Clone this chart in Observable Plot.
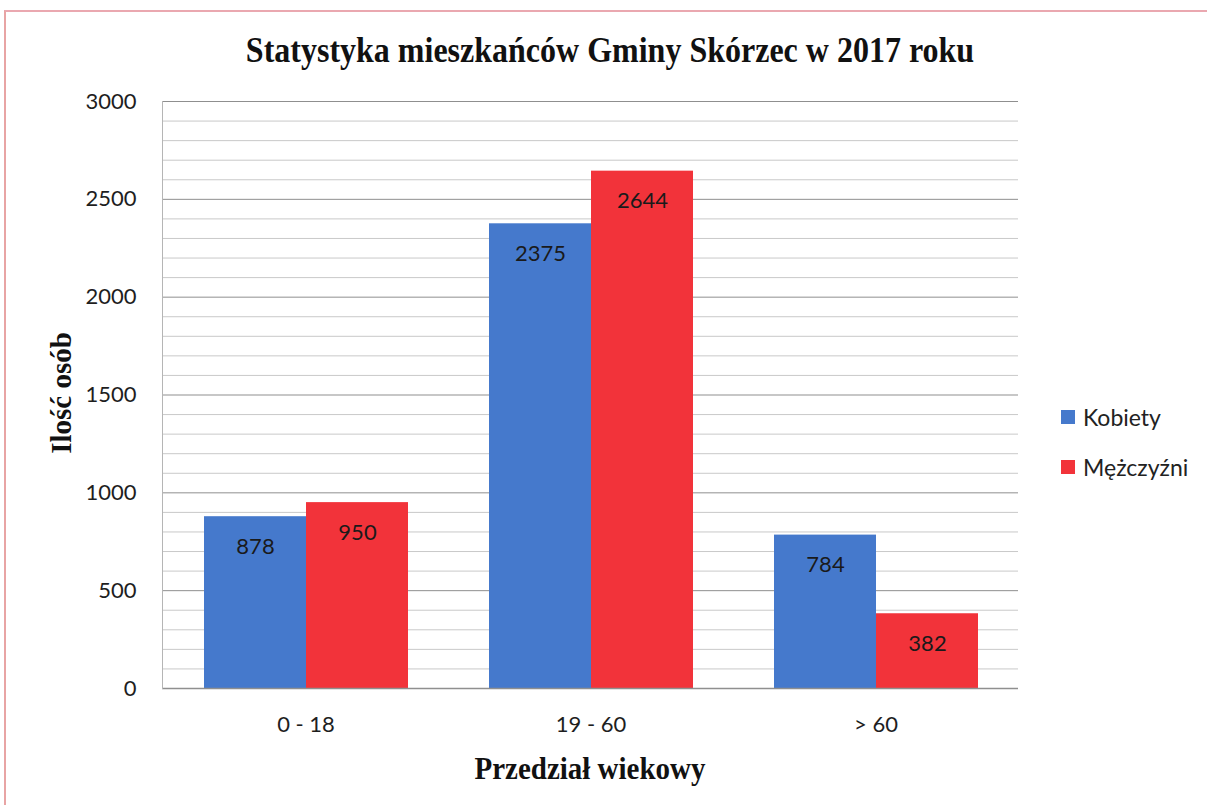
<!DOCTYPE html>
<html>
<head>
<meta charset="utf-8">
<script src="https://cdn.jsdelivr.net/npm/d3@7"></script>
<script src="https://cdn.jsdelivr.net/npm/@observablehq/plot@0.6"></script>
<style>
  html, body { margin: 0; padding: 0; background: #fff; }
  #wrap { position: relative; width: 1207px; height: 805px; overflow: hidden; }
  #border { position: absolute; left: 4px; top: 10px; width: 1210px; height: 800px; border-left: 2px solid #e8a4a4; border-top: 2px solid #eaa8b0; box-sizing: border-box; }
  .serif { font-family: "Liberation Serif", "DejaVu Serif", serif; font-weight: bold; color: #111; position: absolute; white-space: nowrap; }
  #title { left: 0; width: 1220px; top: 32px; text-align: center; font-size: 32px; transform: scaleY(1.12); }
  #xlabel { left: 0; width: 1180px; top: 752px; text-align: center; font-size: 29px; transform: scaleY(1.1); }
  #ylabel { left: 61px; top: 393px; font-size: 29px; transform: translate(-50%, -50%) rotate(-90deg) scaleY(1.05); }
  #legend { position: absolute; left: 1061px; top: 402px; font-family: Lato, "Open Sans", sans-serif; font-size: 23px; color: #222; }
  #legend div { display: flex; align-items: center; height: 30px; margin-bottom: 20px; }
  #legend span.sw { display: inline-block; width: 14px; height: 14px; margin-right: 8px; }
  .layer { position: absolute; left: 0; top: 0; }
</style>
</head>
<body>
<div id="wrap">
  <div id="border"></div>
  <div id="grid" class="layer"></div>
  <div id="bars" class="layer"></div>
  <div id="title" class="serif">Statystyka mieszkańców Gminy Skórzec w 2017 roku</div>
  <div id="ylabel" class="serif">Ilość osób</div>
  <div id="xlabel" class="serif">Przedział wiekowy</div>
  <div id="legend"></div>
</div>
<script>
const categories = ["0 - 18", "19 - 60", "> 60"];
const series = ["Kobiety", "Mężczyźni"];
const kobiety = [878, 2375, 784];
const mezczyzni = [950, 2644, 382];
const yTicks = [0, 500, 1000, 1500, 2000, 2500, 3000];
const minorTicks = d3.range(0, 3001, 100).filter(v => v % 500 !== 0);
const colors = ["#4579cc", "#f2333a"];

const rows = [];
categories.forEach((c, i) => {
  rows.push({category: c, series: series[0], value: kobiety[i]});
  rows.push({category: c, series: series[1], value: mezczyzni[i]});
});

const common = {
  width: 1207,
  height: 805,
  marginLeft: 162,
  marginRight: 189,
  marginTop: 101,
  marginBottom: 117,
  style: {fontFamily: "Lato, 'Open Sans', sans-serif", fontSize: "22px", color: "#1e1e1e", background: "transparent"}
};

// Layer 1: gridlines and y axis (continuous across categories)
const gridPlot = Plot.plot({
  ...common,
  x: {domain: categories, axis: null},
  y: {domain: [0, 3000], label: null},
  marks: [
    Plot.ruleY(minorTicks, {stroke: "#c9c9c9", strokeWidth: 1}),
    Plot.ruleY(yTicks.filter(v => v > 0), {stroke: "#8f8f8f", strokeWidth: 1}),
    Plot.axisY({ticks: yTicks, tickSize: 0, tickPadding: 26, tickFormat: d => String(d), fontSize: 22, label: null})
  ]
});
document.getElementById("grid").appendChild(gridPlot);

// Layer 2: grouped bars, value labels, category axis
const barPlot = Plot.plot({
  ...common,
  fx: {domain: categories, paddingInner: 0.282, paddingOuter: 0.141, label: null, axis: null},
  x: {domain: series, padding: 0, axis: null},
  y: {domain: [0, 3000], axis: null},
  color: {domain: series, range: colors},
  marks: [
    Plot.barY(rows, {fx: "category", x: "series", y: "value", fill: "series"}),
    Plot.text(rows, {fx: "category", x: "series", y: "value", text: d => String(d.value), dy: 30, fill: "#1a1a1a", fontSize: 22}),
    Plot.axisFx({anchor: "bottom", tickSize: 0, tickPadding: 28, fontSize: 22, label: null})
  ]
});
document.getElementById("bars").appendChild(barPlot);

// Layer 3: axis lines on top
const linePlot = Plot.plot({
  ...common,
  x: {domain: categories, axis: null},
  y: {domain: [0, 3000], axis: null},
  marks: [
    Plot.ruleY([0], {stroke: "#8f8f8f", strokeWidth: 1.5}),
    Plot.frame({anchor: "left", stroke: "#b5b5b5"})
  ]
});
const lineDiv = document.createElement("div");
lineDiv.className = "layer";
lineDiv.appendChild(linePlot);
document.getElementById("wrap").appendChild(lineDiv);

const legend = document.getElementById("legend");
series.forEach((s, i) => {
  const row = document.createElement("div");
  const sw = document.createElement("span");
  sw.className = "sw";
  sw.style.background = colors[i];
  row.appendChild(sw);
  row.appendChild(document.createTextNode(s));
  legend.appendChild(row);
});
</script>
</body>
</html>
